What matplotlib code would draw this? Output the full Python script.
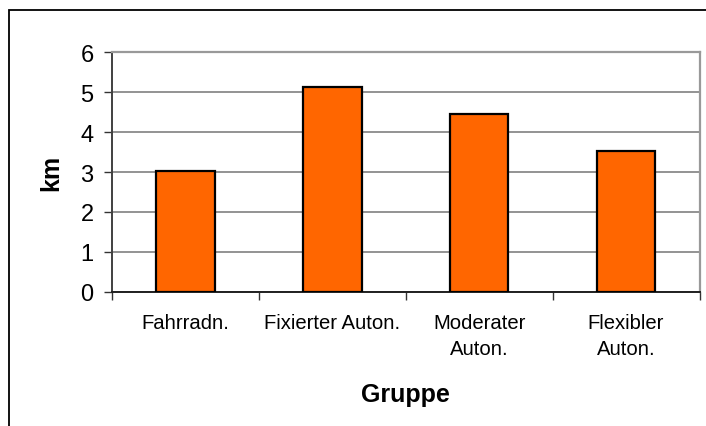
import matplotlib
matplotlib.use("Agg")
import matplotlib.pyplot as plt
from matplotlib.patches import Rectangle
import numpy as np

plt.rcParams['font.family'] = ['Liberation Sans', 'DejaVu Sans']

categories = ["Fahrradn.", "Fixierter Auton.", "Moderater\nAuton.", "Flexibler\nAuton."]
values = [3.02, 5.13, 4.46, 3.53]
y_ticks = [0, 1, 2, 3, 4, 5, 6]

W, H = 706, 427
fig = plt.figure(figsize=(W / 100, H / 100), dpi=100)
fig.patch.set_facecolor("white")

# outer frame (extends beyond right/bottom edge)
fig.patches.append(Rectangle((9 / W, -0.05), 1.2, 1 - 11 / H + 0.05,
                             transform=fig.transFigure, fill=False,
                             edgecolor="black", linewidth=1.3, zorder=0))

left, right = 111.7 / W, 699.5 / W
bottom, top = 1 - 293 / H, 1 - 53 / H
ax = fig.add_axes([left, bottom, right - left, top - bottom])

x = np.arange(len(categories))
ax.bar(x, values, width=0.4, color="#FF6600", edgecolor="black",
       linewidth=1.6, zorder=3)

ax.set_xlim(-0.5, len(categories) - 0.5)
ax.set_ylim(0, 6)
ax.set_yticks(y_ticks)
ax.yaxis.grid(True, color="#808080", linewidth=1.2, zorder=0)
ax.set_axisbelow(True)

ax.set_xticks(x)
ax.set_xticklabels(categories, fontsize=14.6, linespacing=1.5)
ax.set_xticks(np.arange(-0.5, len(categories)), minor=True)
ax.tick_params(axis="x", which="major", length=0, pad=15)
ax.tick_params(axis="x", which="minor", length=6, width=1, direction="out",
               color="#333333")
ax.tick_params(axis="y", length=6, width=1, direction="out", pad=7,
               labelsize=17, color="#333333")

for s in ["top", "right"]:
    ax.spines[s].set_color("#999999")
    ax.spines[s].set_linewidth(1.6)
ax.spines["left"].set_color("#404040")
ax.spines["left"].set_linewidth(1.4)
ax.spines["bottom"].set_color("#202020")
ax.spines["bottom"].set_linewidth(1.4)

ax.set_ylabel("km", fontsize=18, fontweight="bold", labelpad=12)
ax.set_xlabel("Gruppe", fontsize=18, fontweight="bold", labelpad=17)

fig.savefig("out.png", dpi=100)
